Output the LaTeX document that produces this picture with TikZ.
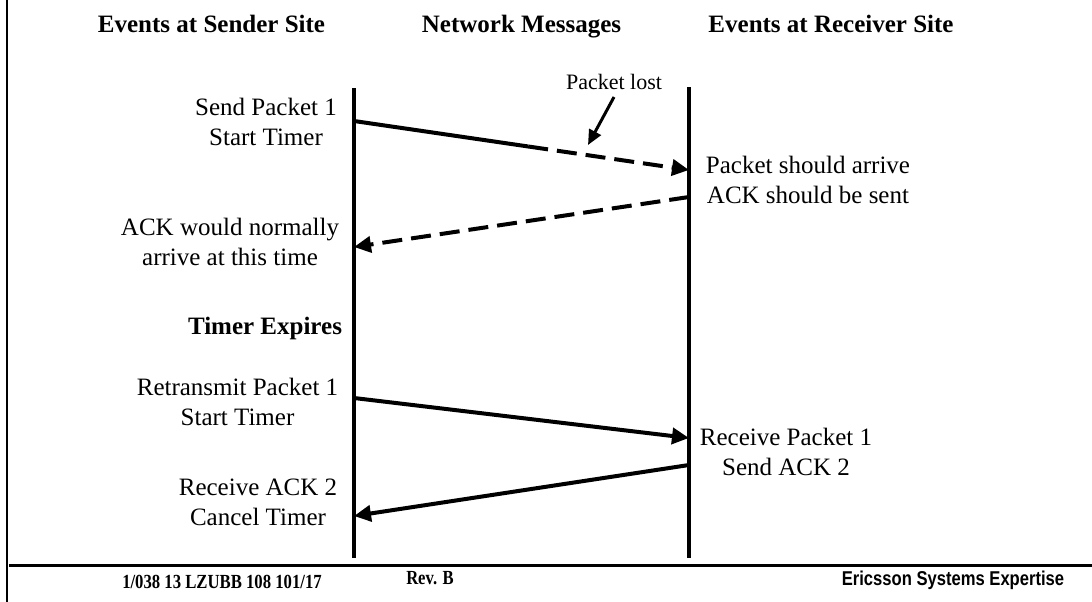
\documentclass[tikz,border=0pt]{standalone}
\usepackage{fontspec}
\setmainfont{Liberation Serif}
\newfontfamily\arialfont{Liberation Sans}
\usetikzlibrary{arrows.meta,calc}
\begin{document}
\begin{tikzpicture}[x=1pt,y=-1pt,
  lbl/.style={inner sep=0pt, align=center, font=\fontsize{25}{30}\selectfont},
  hdr/.style={inner sep=0pt, font=\fontsize{25}{30}\selectfont\bfseries},
  foot/.style={inner sep=0pt, font=\fontsize{20}{24}\selectfont\bfseries},
  life/.style={line width=4pt},
  msg/.style={line width=4pt},
  tipA/.style={-{Triangle[length=17pt,width=16pt]}},
  dsh/.style={dash pattern=on 20pt off 9pt}]
\useasboundingbox (0,0) rectangle (1092,602);

% frame lines
\draw[line width=1.5pt] (7,0) -- (7,602);
\draw[line width=3pt] (9,565) -- (1092,565);

% headers
\node[hdr,anchor=base] (h1) at (211.5,33) {Events at Sender Site};
\node[hdr,anchor=base] (h2) at (521.5,33) {Network Messages};
\node[hdr,anchor=base] (h3) at (831,33) {Events at Receiver Site};

% lifelines
\coordinate (Ltop) at (354,88);
\coordinate (Lbot) at (354,558);
\coordinate (Rtop) at (689,87);
\coordinate (Rbot) at (689,558);
\draw[life] (Ltop) -- (Lbot);
\draw[life] (Rtop) -- (Rbot);

% sender labels
\node[lbl] (s1) at (266,122) {Send Packet 1\\Start Timer};
\node[lbl] (s2) at (230,242) {ACK would normally\\arrive at this time};
\node[hdr] (s3) at (265,328) {Timer Expires};
\node[lbl] (s4) at (237.5,402) {Retransmit Packet 1\\Start Timer};
\node[lbl] (s5) at (258,502) {Receive ACK 2\\Cancel Timer};

% receiver labels
\node[lbl] (r1) at (808,180) {Packet should arrive\\ACK should be sent};
\node[lbl] (r2) at (786,452) {Receive Packet 1\\Send ACK 2};

% packet lost
\node[inner sep=0pt, font=\fontsize{22}{26}\selectfont] (lost) at (614,82) {Packet lost};
\coordinate (lostS) at (614,97);
\coordinate (lostE) at (588,145);
\draw[line width=3pt,-{Triangle[length=15pt,width=13pt]}] (lostS) -- (lostE);

% message 1 (lost)
\coordinate (m1s) at (354,121);
\coordinate (m1e) at (689,170);
\coordinate (m1m) at ($(m1s)!0.52!(m1e)$);
\draw[msg] (m1s) -- (m1m);
\draw[msg,dsh,tipA] (m1m) -- (m1e);

% message 2 (ACK not sent)
\coordinate (m2s) at (689,197);
\coordinate (m2e) at (354,247);
\draw[msg,dsh,tipA] (m2s) -- (m2e);

% message 3 (retransmission)
\coordinate (m3s) at (354,398);
\coordinate (m3e) at (689,438);
\draw[msg,tipA] (m3s) -- (m3e);

% message 4 (ACK 2)
\coordinate (m4s) at (689,465);
\coordinate (m4e) at (354,516);
\draw[msg,tipA] (m4s) -- (m4e);

% footer
\node[foot] (f1) at (222,582) {\scalebox{0.835}[1]{1/038 13 LZUBB 108 101/17}};
\node[foot] (f2) at (430,578) {\scalebox{0.83}[1]{Rev. B}};
\node[foot] (f3) at (953,580) {\arialfont\scalebox{0.83}[1]{Ericsson Systems Expertise}};
\end{tikzpicture}
\end{document}
